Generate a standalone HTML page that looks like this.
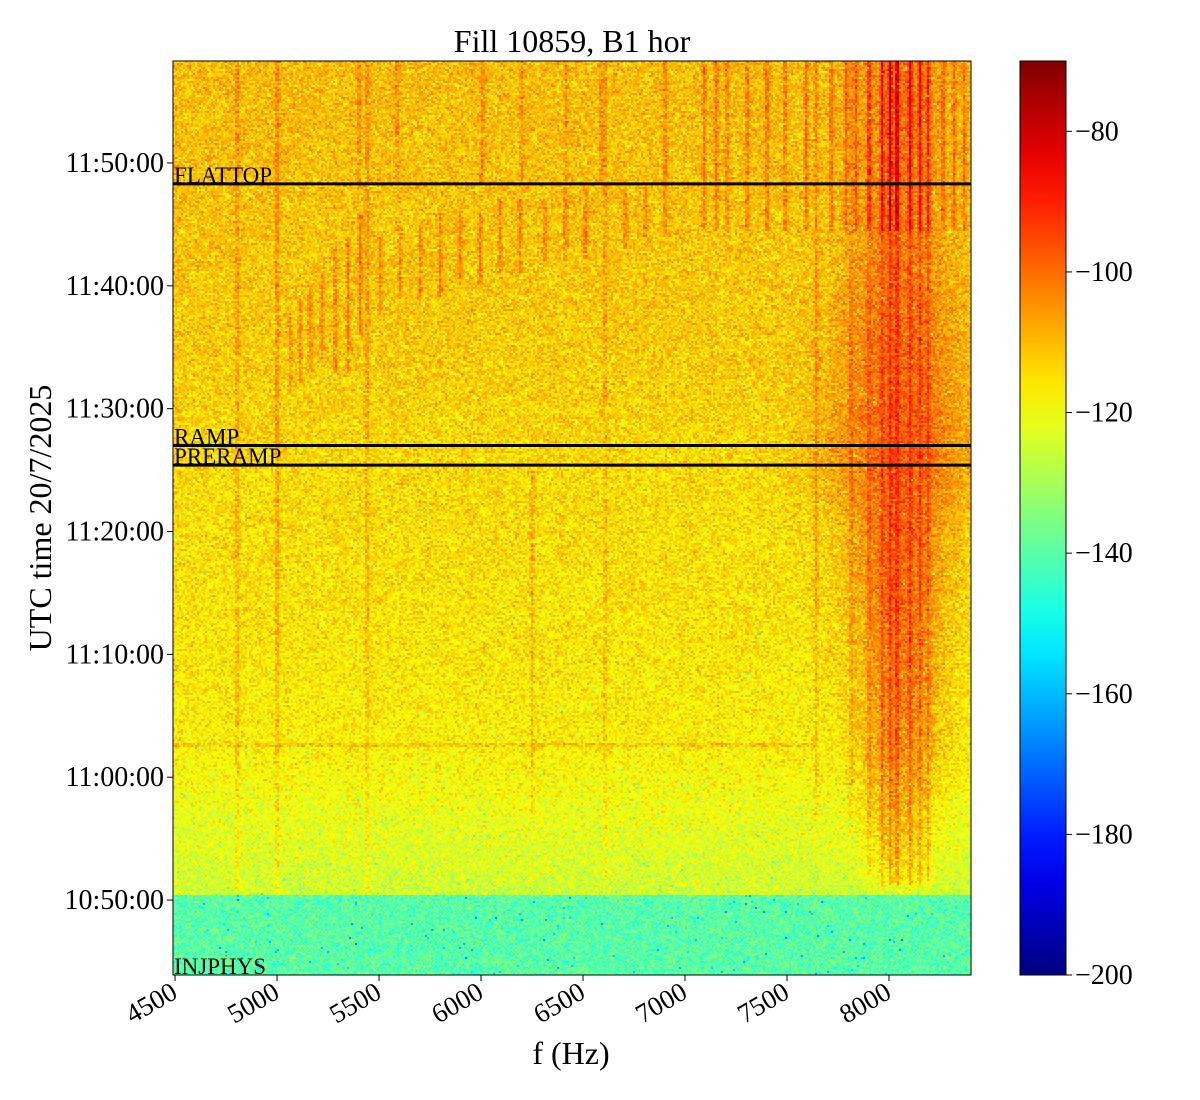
<!DOCTYPE html>
<html><head><meta charset="utf-8">
<style>
body{margin:0;background:#fff;width:1200px;height:1100px;overflow:hidden;position:relative;font-family:"Liberation Serif",serif;}
#plot{position:absolute;left:173px;top:61px;width:798px;height:914px;image-rendering:pixelated;}
svg{position:absolute;left:0;top:0;}
</style></head>
<body>
<canvas id="plot" width="399" height="457"></canvas>
<svg id="ov" width="1200" height="1100"></svg>
<script>
// ---- data ----
const xTicks = [4500,5000,5500,6000,6500,7000,7500,8000];
const yTickMinutes = [50,60,70,80,90,100,110]; // minutes after 10:00
const yTickLabels = ["10:50:00","11:00:00","11:10:00","11:20:00","11:30:00","11:40:00","11:50:00"];
const cbTicks = [-80,-100,-120,-140,-160,-180,-200];
const phaseNames = ["FLATTOP","RAMP","PRERAMP","INJPHYS"];
const phaseTimes = [108.3,87.0,85.4,43.9];
const baseT = [43.9,50.4,50.5,57,62.5,75,85,95,118.3];
const baseV = [-140,-140,-125,-121,-117,-115,-114,-112,-110];
const humpCenter = 8050;
const humpT = [50.5,52,60,70,80,86,95,105,118.3];
const humpA = [0,9,12,14,15,15,12,9,9];
const humpW = [100,110,140,150,170,260,200,150,130];
// lines: [freq, tStart, tEnd, ampDb]
const lines = [
[4804,50.5,118.3,7],[5000,50.5,118.3,8],[5441,50.5,118.3,6],[6608,50.5,118.3,5],
[6250,57,85,6],[7642,57,118.3,7],[7814,57,118.3,6],
[8005,51,118.3,9],[8039,51,118.3,10],[8103,51,118.3,8],[8152,51,118.3,8],[8191,51,118.3,7],[7966,51,118.3,7],[7902,52,118.3,6],
[5064,91.5,98,8],[5113,92,99,8],[5162,93,100,8],[5220,94,101,8],[5284,93,103,9],[5348,93,104,9],[5407,96,106,11],
[5505,98,104,8],[5603,99,105,8],[5701,99,105,9],[5799,99,106,9],[5897,100,106,8],[5995,100,106,10],[6093,101,107,8],
[6191,101,107,9],[6314,102,107,8],[6412,102,108,8],[6510,102,108,8],[6706,103,108,8],[6804,104,108,8],[6902,104,118.3,8],
[5402,108.3,118.3,7],[5588,108.3,118.3,6],[6005,108.3,118.3,7],[6201,108.3,118.3,6],[6417,108.3,118.3,6],[6588,108.3,118.3,7],
[7093,104.5,118.3,9],[7152,104.5,118.3,9],[7206,104.5,118.3,8],[7304,104.5,118.3,9],[7402,104.5,118.3,10],[7490,104.5,118.3,9],
[7593,104.5,118.3,10],[7716,104.5,118.3,10],[7789,104.5,118.3,10],[7838,104.5,118.3,10],[7902,104.5,118.3,10],[7966,104.5,118.3,11],
[8005,104.5,118.3,15],[8039,104.5,118.3,15],[8103,104.5,118.3,11],[8152,104.5,118.3,10],[8191,104.5,118.3,10],[8265,104.5,118.3,10],
[8319,104.5,118.3,9],[8368,104.5,118.3,9]
];
// horizontal line: [time, fMax, ampDb]
const hLines = [[62.6,7640,5]];

// ---- scales ----
const X0=173,X1=971,Y0=61,Y1=975;
const F0=4490,F1=8402,T0=43.9,T1=118.3;
const xs=f=>X0+(f-F0)/(F1-F0)*(X1-X0);
const ys=t=>Y1-(t-T0)/(T1-T0)*(Y1-Y0);
const V0=-200,V1=-70;
const cs=v=>Y1-(v-V0)/(V1-V0)*(Y1-Y0);
function interp(T,V,t){if(t<=T[0])return V[0];for(let i=1;i<T.length;i++){if(t<=T[i]){const a=(t-T[i-1])/(T[i]-T[i-1]);return V[i-1]+a*(V[i]-V[i-1]);}}return V[V.length-1];}
function jet(x){x=Math.max(0,Math.min(1,x));const c=v=>Math.round(255*Math.max(0,Math.min(1,v)));return [c(1.5-Math.abs(4*x-3)),c(1.5-Math.abs(4*x-2)),c(1.5-Math.abs(4*x-1))];}
function hash(i,j){let h=(i*374761393+j*668265263)|0;h=(h^(h>>>13))*1274126177|0;h=h^(h>>>16);return (h>>>0)/4294967296;}

// ---- heatmap ----
const cv=document.getElementById('plot');const ctx=cv.getContext('2d');
const W=cv.width,H=cv.height;const img=ctx.createImageData(W,H);
for(let r=0;r<H;r++){
  const t=T1-(r+0.5)/H*(T1-T0);
  const base=interp(baseT,baseV,t);
  const hA=t<50.5?0:interp(humpT,humpA,t), hW=interp(humpT,humpW,t);
  for(let c=0;c<W;c++){
    const f=F0+(c+0.5)/W*(F1-F0);
    let v=base;
    const df=f-humpCenter; v+=hA*Math.exp(-df*df/(2*hW*hW));
    for(const L of lines){ if(t>=L[1]&&t<=L[2]){const d=f-L[0]; if(Math.abs(d)<30) v+=L[3]*Math.exp(-d*d/90);} }
    for(const h of hLines){ if(f<=h[1]&&Math.abs(t-h[0])<0.12) v+=h[2]; }
    const n=(hash(c,r)+hash(c+991,r+313)+hash(c+57,r+7771))/3-0.5;
    v+=n*24;
    if(hash(c+3,r+11)<0.008) v-=(t<50.5?20:14);
    const col=jet((v-V0)/(V1-V0));const k=(r*W+c)*4;
    img.data[k]=col[0];img.data[k+1]=col[1];img.data[k+2]=col[2];img.data[k+3]=255;
  }
}
ctx.putImageData(img,0,0);

// ---- overlay ----
const svg=document.getElementById('ov');const NS='http://www.w3.org/2000/svg';
function el(tag,attrs,txt){const e=document.createElementNS(NS,tag);for(const k in attrs)e.setAttribute(k,attrs[k]);if(txt!==undefined)e.textContent=txt;svg.appendChild(e);return e;}
// phase lines
phaseNames.forEach((p,i)=>{
  const y=ys(phaseTimes[i]);
  if(i<3){const ln=el('line',{x1:X0,x2:X1,y1:y,y2:y,stroke:'#000','stroke-width':3});
  
  }
  const tx=el('text',{x:X0+1,y:y-1,'font-size':23,'font-family':'Liberation Serif, serif'},p);
  
  
});
// frame
const fr=el('rect',{x:X0,y:Y0,width:X1-X0,height:Y1-Y0,fill:'none',stroke:'#000','stroke-width':1});


// x ticks
xTicks.forEach(v=>{const x=xs(v);
  el('line',{x1:x,x2:x,y1:Y1,y2:Y1+6,stroke:'#000'});
  const t=el('text',{x:x+4,y:Y1+22,'font-size':27,'text-anchor':'end',transform:`rotate(-30 ${x+4} ${Y1+22})`},String(v));
  
  
});
// y ticks
yTickMinutes.forEach((m,i)=>{const y=ys(m);
  el('line',{x1:X0-6,x2:X0,y1:y,y2:y,stroke:'#000'});
  const t=el('text',{x:X0-9,y:y+9,'font-size':28,'text-anchor':'end'},yTickLabels[i]);
  
  
});
// titles
const ti=el('text',{x:572,y:52,'font-size':32,'text-anchor':'middle'},'Fill 10859, B1 hor');


const xl=el('text',{x:571,y:1064,'font-size':32,'text-anchor':'middle'},'f (Hz)');


const yl=el('text',{x:51,y:518,'font-size':32,'text-anchor':'middle',transform:'rotate(-90 51 518)'},'UTC time 20/7/2025');


// colorbar
const defs=el('defs',{});const g=document.createElementNS(NS,'linearGradient');
g.setAttribute('id','jg');g.setAttribute('x1','0');g.setAttribute('y1','1');g.setAttribute('x2','0');g.setAttribute('y2','0');
for(let i=0;i<=20;i++){const c=jet(i/20);const s=document.createElementNS(NS,'stop');s.setAttribute('offset',i/20);s.setAttribute('stop-color',`rgb(${c})`);g.appendChild(s);}
defs.appendChild(g);
const cb=el('rect',{x:1020,y:Y0,width:46,height:Y1-Y0,fill:'url(#jg)',stroke:'#000','stroke-width':1});


cbTicks.forEach(v=>{const y=cs(v);
  el('line',{x1:1066,x2:1072,y1:y,y2:y,stroke:'#000'});
  const t=el('text',{x:1075,y:y+9,'font-size':28},String(v).replace('-','\u2212'));
  
  
});
</script>
</body></html>
